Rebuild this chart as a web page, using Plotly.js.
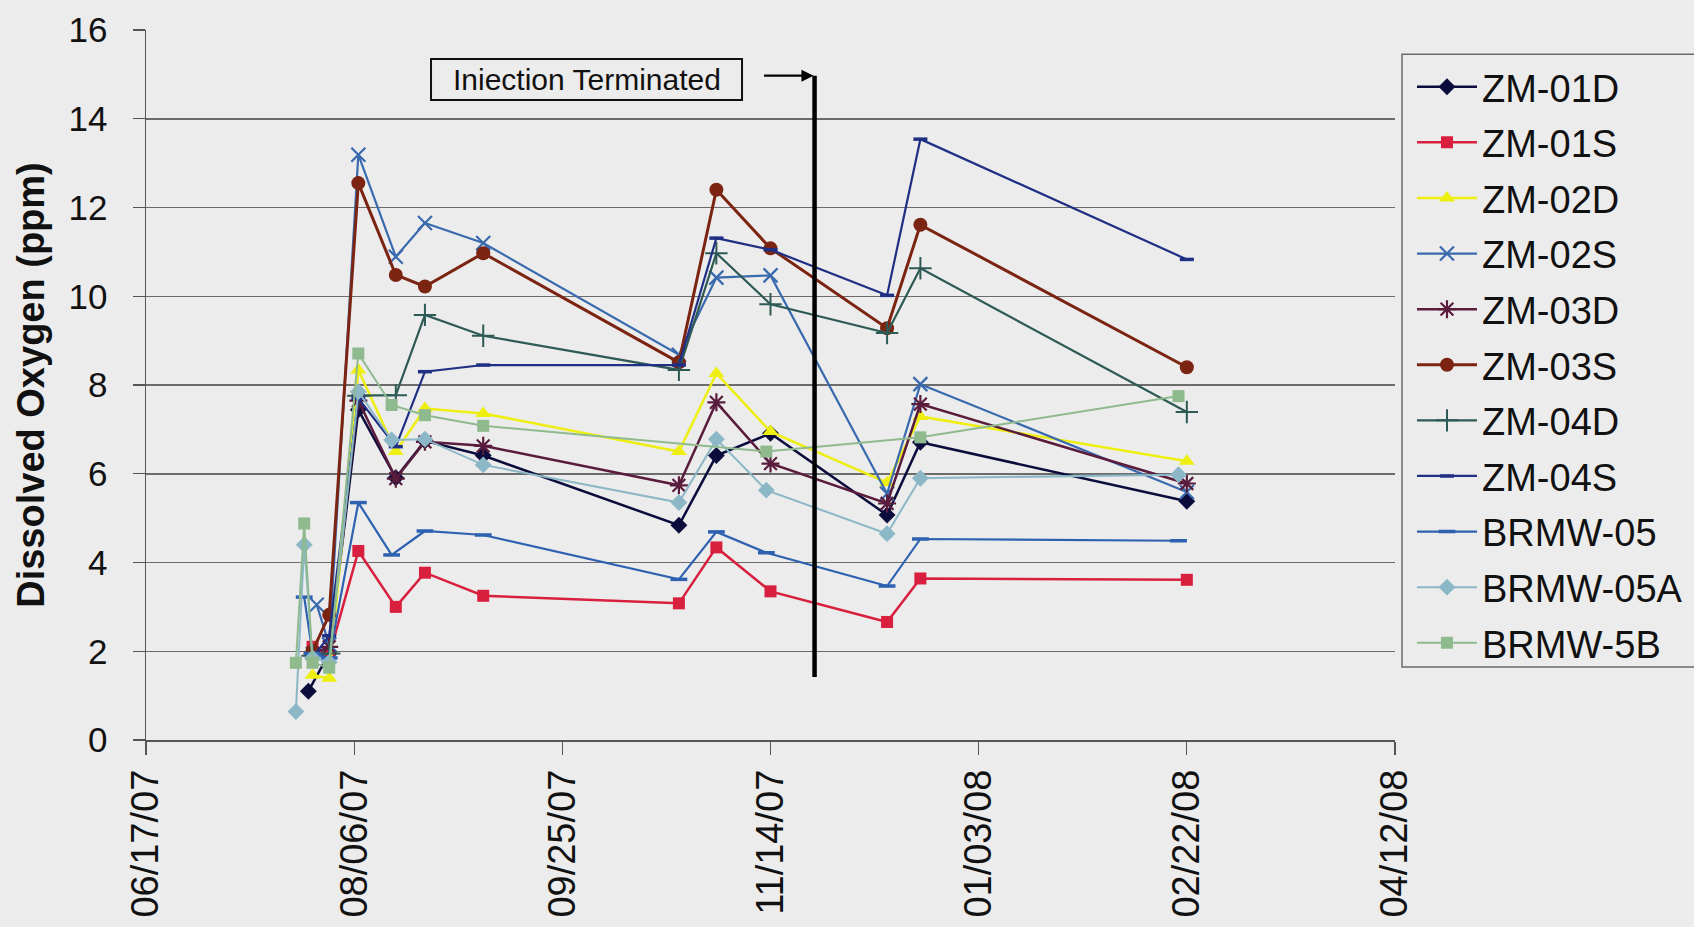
<!DOCTYPE html>
<html>
<head>
<meta charset="utf-8">
<script src="https://cdn.plot.ly/plotly-3.0.1.min.js"></script>
<style>
  html, body { margin: 0; padding: 0; background: #ececec; }
  #chart { width: 1694px; height: 927px; }
</style>
</head>
<body>
<div id="chart"></div>
<script>
// Dissolved oxygen readings per monitoring well (ppm)
const zm01dDates = ['2007-07-26','2007-07-31','2007-08-07','2007-08-16','2007-08-23','2007-09-06','2007-10-23','2007-11-01','2007-11-14','2007-12-12','2007-12-20','2008-02-22'];
const zm01dDO    = [1.10, 1.95, 7.44, 5.91, 6.74, 6.41, 4.84, 6.41, 6.91, 5.07, 6.71, 5.38];

const zm01sDates = ['2007-07-27','2007-07-31','2007-08-07','2007-08-16','2007-08-23','2007-09-06','2007-10-23','2007-11-01','2007-11-14','2007-12-12','2007-12-20','2008-02-22'];
const zm01sDO    = [2.10, 1.90, 4.26, 3.00, 3.77, 3.25, 3.08, 4.34, 3.35, 2.66, 3.64, 3.61];

const zm02dDates = ['2007-07-27','2007-07-31','2007-08-07','2007-08-16','2007-08-23','2007-09-06','2007-10-23','2007-11-01','2007-11-14','2007-12-12','2007-12-20','2008-02-22'];
const zm02dDO    = [1.46, 1.39, 8.34, 6.50, 7.47, 7.36, 6.50, 8.26, 6.95, 5.80, 7.29, 6.28];

const zm02sDates = ['2007-07-28','2007-07-31','2007-08-07','2007-08-16','2007-08-23','2007-09-06','2007-10-23','2007-11-01','2007-11-14','2007-12-12','2007-12-20','2008-02-22'];
const zm02sDO    = [3.05, 2.15, 13.19, 10.89, 11.65, 11.20, 8.68, 10.42, 10.47, 5.55, 8.02, 5.59];

const zm03dDates = ['2007-07-27','2007-07-31','2007-08-07','2007-08-16','2007-08-23','2007-09-06','2007-10-23','2007-11-01','2007-11-14','2007-12-12','2007-12-20','2008-02-22'];
const zm03dDO    = [1.95, 2.10, 7.65, 5.89, 6.72, 6.63, 5.74, 7.61, 6.23, 5.33, 7.57, 5.78];

const zm03sDates = ['2007-07-27','2007-07-31','2007-08-07','2007-08-16','2007-08-23','2007-09-06','2007-10-23','2007-11-01','2007-11-14','2007-12-12','2007-12-20','2008-02-22'];
const zm03sDO    = [2.00, 2.82, 12.55, 10.48, 10.22, 10.97, 8.51, 12.40, 11.08, 9.28, 11.61, 8.40];

const zm04dDates = ['2007-07-27','2007-07-31','2007-08-07','2007-08-16','2007-08-23','2007-09-06','2007-10-23','2007-11-01','2007-11-14','2007-12-12','2007-12-20','2008-02-22'];
const zm04dDO    = [1.90, 1.95, 7.76, 7.77, 9.58, 9.11, 8.34, 10.97, 9.82, 9.17, 10.63, 7.39];

const zm04sDates = ['2007-07-27','2007-07-31','2007-08-07','2007-08-16','2007-08-23','2007-09-06','2007-10-23','2007-11-01','2007-11-14','2007-12-12','2007-12-20','2008-02-22'];
const zm04sDO    = [1.85, 2.35, 7.70, 6.61, 8.30, 8.45, 8.45, 11.31, 11.05, 10.02, 13.54, 10.83];

const brmw05Dates = ['2007-07-25','2007-07-27','2007-07-31','2007-08-07','2007-08-15','2007-08-23','2007-09-06','2007-10-23','2007-11-01','2007-11-13','2007-12-12','2007-12-20','2008-02-20'];
const brmw05DO    = [3.22, 1.95, 1.85, 5.35, 4.17, 4.71, 4.62, 3.62, 4.69, 4.22, 3.47, 4.53, 4.49];

const brmw05aDates = ['2007-07-23','2007-07-25','2007-07-27','2007-07-31','2007-08-07','2007-08-15','2007-08-23','2007-09-06','2007-10-23','2007-11-01','2007-11-13','2007-12-12','2007-12-20','2008-02-20'];
const brmw05aDO    = [0.64, 4.40, 1.85, 1.75, 7.85, 6.76, 6.78, 6.20, 5.35, 6.78, 5.63, 4.65, 5.90, 5.98];

const brmw5bDates = ['2007-07-23','2007-07-25','2007-07-27','2007-07-31','2007-08-07','2007-08-15','2007-08-23','2007-09-06','2007-11-13','2007-12-20','2008-02-20'];
const brmw5bDO    = [1.74, 4.88, 1.74, 1.63, 8.71, 7.55, 7.32, 7.08, 6.50, 6.82, 7.75];

// Axis ticks every 50 days
const tickDates  = ['2007-06-17','2007-08-06','2007-09-25','2007-11-14','2008-01-03','2008-02-22','2008-04-12'];
const tickLabels = ['06/17/07','08/06/07','09/25/07','11/14/07','01/03/08','02/22/08','04/12/08'];

// End of injection marker
const injectionEnd = '2007-11-24 14:00';
const injectionLow = 1.42;
const injectionHigh = 14.97;
const injectionLabel = 'Iniection Terminated';

const FONT = 'Liberation Sans, Arial, Helvetica, sans-serif';

function well(name, x, y, color, symbol, size, width, markerLine) {
  return {
    type: 'scatter', mode: 'lines+markers', name: name,
    x: x, y: y, legendgroup: name,
    line: { color: color, width: width },
    marker: {
      color: color, symbol: symbol, size: size,
      line: { color: color, width: markerLine }
    }
  };
}

const traces = [
  well('ZM-01D',   zm01dDates,   zm01dDO,   '#0c0c3c', 'diamond',          13, 2.5, 0),
  well('ZM-01S',   zm01sDates,   zm01sDO,   '#d8203e', 'square',           12, 2.5, 0),
  well('ZM-02D',   zm02dDates,   zm02dDO,   '#eeee10', 'triangle-up',      14, 2.5, 0),
  well('ZM-02S',   zm02sDates,   zm02sDO,   '#3a6aae', 'x-thin-open',      14, 2.2, 2.2),
  well('ZM-03D',   zm03dDates,   zm03dDO,   '#5a1c3c', 'asterisk-open',    15, 2.5, 2.2),
  well('ZM-03S',   zm03sDates,   zm03sDO,   '#7c2412', 'circle',           14, 3,   0),
  well('ZM-04D',   zm04dDates,   zm04dDO,   '#2e5a55', 'cross-thin-open',  16, 2.2, 2),
  well('ZM-04S',   zm04sDates,   zm04sDO,   '#1f2f84', 'line-ew-open',     10, 2.2, 3.5),
  well('BRMW-05',  brmw05Dates,  brmw05DO,  '#2e62b0', 'line-ew-open',     12, 2.2, 3.5),
  well('BRMW-05A', brmw05aDates, brmw05aDO, '#8cb7c6', 'diamond',          13, 2,   0),
  well('BRMW-5B',  brmw5bDates,  brmw5bDO,  '#8fba8e', 'square',           12, 2,   0)
];

const layout = {
  width: 1694, height: 927,
  paper_bgcolor: '#ececec',
  plot_bgcolor: '#ececec',
  margin: { l: 146, r: 299, t: 30, b: 187, pad: 0, autoexpand: false },
  font: { family: FONT, color: '#111' },
  showlegend: true,
  xaxis: {
    type: 'date',
    range: ['2007-06-17', '2008-04-12'],
    tickmode: 'array', tickvals: tickDates, ticktext: tickLabels,
    tickangle: -90,
    tickfont: { family: FONT, size: 38, color: '#111' },
    ticks: 'outside', ticklen: 13, tickcolor: '#555', tickwidth: 1.2,
    showgrid: false, zeroline: false,
    showline: true, linecolor: '#555', linewidth: 1.5,
    automargin: false
  },
  yaxis: {
    range: [0, 16], tick0: 0, dtick: 2,
    tickfont: { family: FONT, size: 35, color: '#111' },
    ticks: 'outside', ticklen: 12, tickcolor: '#555', tickwidth: 1.2,
    ticklabelstandoff: 18,
    showgrid: true, gridcolor: '#6c6c6c', gridwidth: 1.5,
    zeroline: false,
    showline: true, linecolor: '#555', linewidth: 1.5,
    automargin: false,
    title: {
      text: '<b>Dissolved Oxygen (ppm)</b>',
      font: { family: FONT, size: 38, color: '#111' },
      standoff: 12
    }
  },
  legend: {
    x: 1.0136, y: 0.964, xanchor: 'left', yanchor: 'top',
    bgcolor: 'rgba(0,0,0,0)', borderwidth: 0,
    font: { family: FONT, size: 38, color: '#111' },
    traceorder: 'grouped', tracegroupgap: 3.2,
    itemwidth: 60
  },
  shapes: [
    // injection end marker
    { type: 'line', xref: 'x', yref: 'y',
      x0: injectionEnd, x1: injectionEnd, y0: injectionLow, y1: injectionHigh,
      line: { color: '#000', width: 4.5 } },
    // label box
    { type: 'rect', xref: 'paper', yref: 'paper',
      x0: 0.2282, x1: 0.4772, y0: 0.9014, y1: 0.9592,
      line: { color: '#111', width: 2 }, fillcolor: 'rgba(0,0,0,0)' },
    // legend frame, running off the right edge
    { type: 'rect', xref: 'paper', yref: 'paper',
      x0: 1.0056, x1: 1.245, y0: 0.1028, y1: 0.966,
      line: { color: '#6a6a6a', width: 1.5 }, fillcolor: 'rgba(0,0,0,0)' }
  ],
  annotations: [
    { xref: 'paper', yref: 'paper', x: 0.3527, y: 0.930,
      text: injectionLabel, showarrow: false,
      font: { family: FONT, size: 30, color: '#111' },
      xanchor: 'center', yanchor: 'middle' },
    { xref: 'x', yref: 'y', x: injectionEnd, y: injectionHigh,
      text: '', showarrow: true, axref: 'pixel', ayref: 'pixel',
      ax: -52, ay: 0, arrowhead: 2, arrowsize: 1.1, arrowwidth: 2.2,
      arrowcolor: '#000', standoff: 1 }
  ]
};

Plotly.newPlot('chart', traces, layout, { displayModeBar: false, staticPlot: true });
</script>
</body>
</html>
